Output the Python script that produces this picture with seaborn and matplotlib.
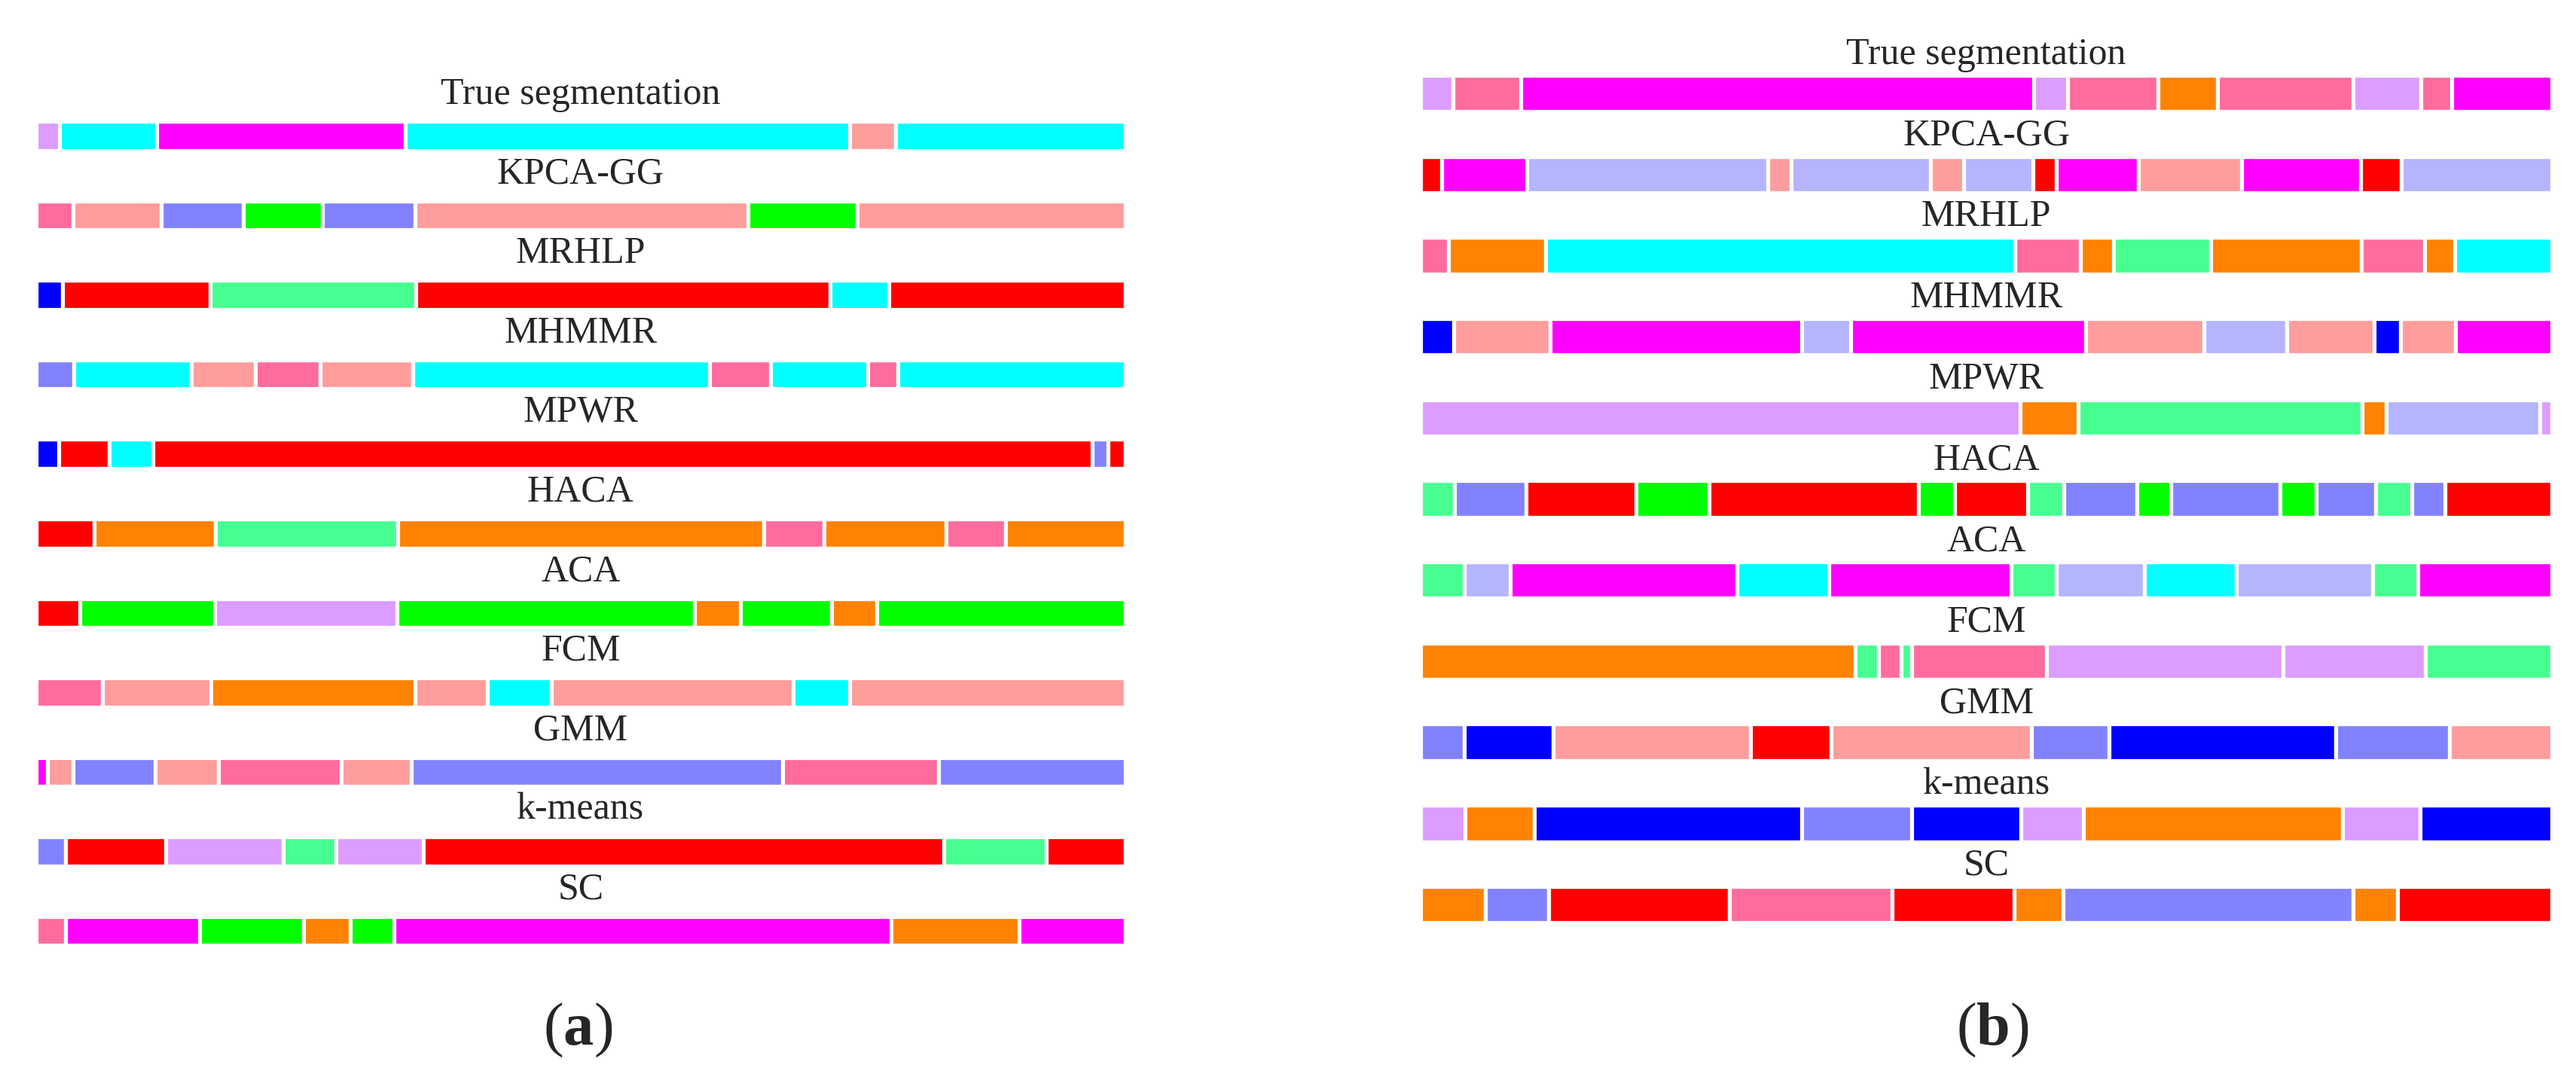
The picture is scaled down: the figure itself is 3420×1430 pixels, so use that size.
import pandas as pd
import seaborn as sns
import matplotlib.pyplot as plt

# methods (rows), top to bottom
methods = ['True segmentation', 'KPCA-GG', 'MRHLP', 'MHMMR', 'MPWR', 'HACA',
           'ACA', 'FCM', 'GMM', 'k-means', 'SC']

# cluster colours
palette = {
    'L': '#dd9cff',  # lavender
    'C': '#00ffff',  # cyan
    'M': '#ff00ff',  # magenta
    'S': '#ff9c9c',  # salmon
    'H': '#ff6b9c',  # pink
    'P': '#8282ff',  # periwinkle
    'Q': '#b4b4ff',  # light periwinkle
    'G': '#00ff00',  # green
    'B': '#0000ff',  # blue
    'R': '#ff0000',  # red
    'A': '#47ff91',  # aquamarine
    'O': '#ff8200',  # orange
}

# panel (a): segment end frames and cluster labels
ends_a = [
    [33, 171, 525, 1156, 1222, 1548],
    [53, 178, 295, 407, 539, 1012, 1167, 1548],
    [38, 247, 540, 1128, 1212, 1548],
    [54, 221, 312, 404, 535, 957, 1044, 1182, 1225, 1548],
    [32, 104, 166, 1501, 1524, 1548],
    [83, 255, 514, 1034, 1120, 1293, 1378, 1548],
    [62, 254, 513, 936, 1001, 1131, 1195, 1548],
    [94, 248, 539, 641, 732, 1076, 1156, 1548],
    [16, 53, 169, 259, 434, 533, 1061, 1283, 1548],
    [42, 184, 351, 426, 550, 1290, 1436, 1548],
    [42, 232, 380, 447, 509, 1215, 1397, 1548],
]
cls_a = [
    'LCMCSC',
    'HSPGPSGS',
    'BRARCR',
    'PCSHSCHCHC',
    'BRCRPR',
    'ROAOHOHO',
    'RGLGOGOG',
    'HSOSCSCS',
    'MSPSHSPHP',
    'PRLALRAR',
    'HMGOGMOM',
]

# panel (b)
ends_b = [
    [44, 138, 844, 891, 1015, 1097, 1284, 1377, 1420, 1558],
    [29, 146, 478, 510, 702, 748, 843, 875, 988, 1130, 1294, 1350, 1558],
    [38, 172, 818, 909, 954, 1088, 1295, 1382, 1424, 1558],
    [46, 178, 525, 592, 916, 1079, 1193, 1313, 1349, 1425, 1558],
    [825, 905, 1296, 1330, 1541, 1558],
    [47, 145, 296, 397, 685, 735, 836, 886, 986, 1033, 1183, 1233, 1315, 1365, 1411, 1558],
    [60, 123, 436, 562, 813, 875, 997, 1123, 1311, 1373, 1558],
    [598, 631, 662, 676, 862, 1188, 1384, 1558],
    [60, 182, 454, 565, 841, 948, 1260, 1417, 1558],
    [61, 157, 525, 676, 827, 913, 1269, 1376, 1558],
    [89, 176, 425, 649, 817, 885, 1284, 1345, 1558],
]
cls_b = [
    'LHMLHOHLHM',
    'RMQSQSQRMSMRQ',
    'HOCHOAOHOC',
    'BSMQMSQSBSM',
    'LOAOQL',
    'APRGRGRAPGPGPAPR',
    'AQMCMAQCQAM',
    'OAHAHLLA',
    'PBSRSPBPS',
    'LOBPBLOLB',
    'OPRHROPOR',
]

sns.set_style('white')
plt.rcParams['font.family'] = ['Liberation Serif', 'DejaVu Serif']
plt.rcParams['mathtext.fontset'] = 'custom'
plt.rcParams['mathtext.rm'] = 'Liberation Serif'
plt.rcParams['mathtext.bf'] = 'Liberation Serif:bold'


def to_frame(ends, cls):
    rows = []
    for m, e, c in zip(methods, ends, cls):
        n = len(e)
        for k in range(n):
            rows.append({'method': m, 'end': e[k], 'cls': c[k], 'rank': n - 1 - k})
    return pd.DataFrame(rows)


def draw_panel(ax, ends, cls, bar_w, title_off):
    df = to_frame(ends, cls)
    total = max(max(e) for e in ends)
    # overlay from the last segment to the first, white edges give the gaps
    for r in sorted(df['rank'].unique()):
        sub = df[df['rank'] == r]
        sns.barplot(data=sub, x='end', y='method', hue='cls', palette=palette,
                    hue_order=list(palette), order=methods, dodge=False,
                    orient='h', width=bar_w, saturation=1, errorbar=None,
                    edgecolor='white', linewidth=3.8, legend=False, ax=ax)
    ax.set_xlim(0, total)
    ax.set_ylim(len(methods) - 0.5, -0.5)
    for i, m in enumerate(methods):
        ax.text(total / 2, i - title_off, m, ha='center', va='baseline',
                fontsize=36, clip_on=False)
    ax.axis('off')


fig = plt.figure(figsize=(34.2, 14.3), dpi=100)
ax_a = fig.add_axes([0.0140, 0.0987, 0.4228, 0.8120])
ax_b = fig.add_axes([0.5515, 0.1225, 0.4392, 0.8284])

draw_panel(ax_a, ends_a, cls_a, 0.365, 0.403)
draw_panel(ax_b, ends_b, cls_b, 0.45, 0.362)

fig.text(0.2243, 0.0434, r'($\mathbf{a}$)', ha='center', va='center', fontsize=58)
fig.text(0.7734, 0.0434, r'($\mathbf{b}$)', ha='center', va='center', fontsize=58)

fig.savefig('out.png', dpi=100, facecolor='white')
